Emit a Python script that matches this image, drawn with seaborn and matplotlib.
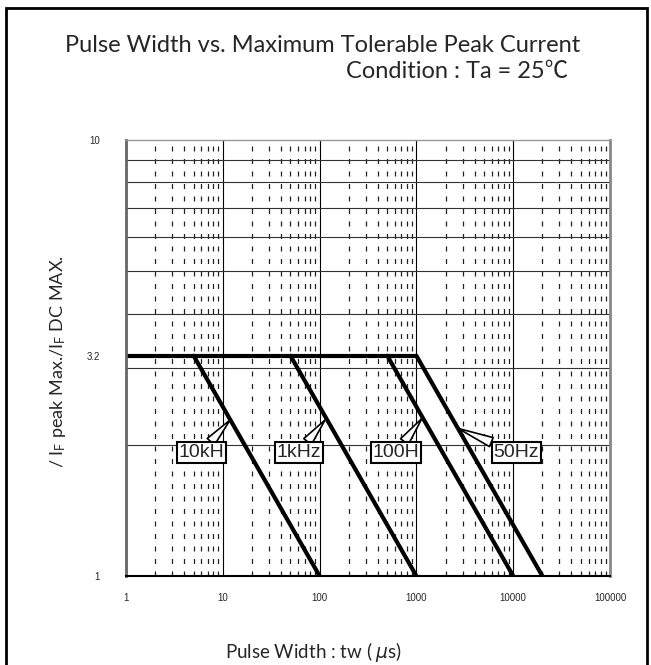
import matplotlib
matplotlib.use("Agg")
import matplotlib.pyplot as plt
import matplotlib.ticker as mticker
import matplotlib.patches as mpatches
import numpy as np
import pandas as pd
import seaborn as sns

# derating curves: (pulse width at knee, ratio at knee) -> (pulse width, ratio 1)
freqs = ["10kH", "1kHz", "100H", "50Hz"]
knee_tw = [5, 50, 500, 1000]
end_tw = [100, 1000, 10000, 20000]
knee_ratio = 3.2
flat_tw = [1, 1000]

# callout label positions (data coords) and the point they point to
label_x = [6.0, 61, 620, 10800]
label_y = [1.92, 1.92, 1.92, 1.92]
tip_x = [11.9, 114, 1143, 2700]
tip_y = [2.28, 2.28, 2.30, 2.18]

x_ticks = [1, 10, 100, 1000, 10000, 100000]
y_ticks = [1, 3.2, 10]

rows = []
for f, k, e in zip(freqs, knee_tw, end_tw):
    rows.append({"series": f, "tw": k, "ratio": knee_ratio})
    rows.append({"series": f, "tw": e, "ratio": 1})
for t in flat_tw:
    rows.append({"series": "flat", "tw": t, "ratio": knee_ratio})
df = pd.DataFrame(rows)

sns.set_style("white")
plt.rcParams["font.family"] = ["Lato", "Noto Sans CJK JP", "DejaVu Sans"]

W, H = 651, 665
fig = plt.figure(figsize=(W / 100, H / 100), dpi=100)
ax = fig.add_axes([126 / W, 1 - 576 / H, (610 - 126) / W, (576 - 140) / H])

ax.set_xscale("log")
ax.set_yscale("log")
ax.set_xlim(1, 100000)
ax.set_ylim(1, 10)

# grid
ax.xaxis.set_major_locator(mticker.FixedLocator(x_ticks))
ax.xaxis.set_minor_locator(mticker.LogLocator(base=10, subs=np.arange(2, 10)))
ax.yaxis.set_major_locator(mticker.FixedLocator(y_ticks))
ax.yaxis.set_minor_locator(mticker.LogLocator(base=10, subs=np.arange(2, 10)))
ax.xaxis.set_major_formatter(mticker.FixedFormatter([str(v) for v in x_ticks]))
ax.yaxis.set_major_formatter(mticker.FixedFormatter(["1", "3.2", "10"]))
ax.yaxis.set_minor_formatter(mticker.NullFormatter())
ax.xaxis.set_minor_formatter(mticker.NullFormatter())

ax.grid(True, which="major", axis="x", color="black", lw=0.8)
ax.grid(True, which="minor", axis="x", color="#222222", lw=0.9, linestyle=(0, (4, 6)))
ax.grid(True, which="minor", axis="y", color="#333333", lw=0.8)
ax.grid(False, which="major", axis="y")
ax.set_axisbelow(True)

ax.tick_params(which="both", length=0)
ax.tick_params(axis="y", pad=19, labelsize=7)
ax.tick_params(axis="x", pad=12, labelsize=7)
for lab in ax.get_xticklabels() + ax.get_yticklabels():
    lab.set_fontfamily("Liberation Sans")

for side, c, w in [("left", "#666666", 2), ("bottom", "black", 1.5),
                   ("right", "#888888", 2), ("top", "#999999", 1)]:
    ax.spines[side].set_visible(True)
    ax.spines[side].set_color(c)
    ax.spines[side].set_linewidth(w)

sns.lineplot(data=df, x="tw", y="ratio", units="series", estimator=None,
             sort=False, color="black", lw=3, ax=ax, legend=False)
ax.set_xlabel("")
ax.set_ylabel("")

for name, lx, ly, tx, ty in zip(freqs, label_x, label_y, tip_x, tip_y):
    ax.annotate(name, xy=(tx, ty), xytext=(lx, ly), ha="center", va="center",
                fontsize=14, family="Liberation Sans",
                bbox=dict(boxstyle="square,pad=0.08", fc="white", ec="black", lw=1.5),
                arrowprops=dict(arrowstyle="wedge,tail_width=0.5", fc="white",
                                ec="black", lw=1.2, shrinkA=0, shrinkB=0))

fig.text(323 / W, 1 - 45 / H, "Pulse Width vs. Maximum Tolerable Peak Current",
         ha="center", va="center", fontsize=17)
fig.text(568 / W, 1 - 71 / H, "Condition : Ta = 25℃", ha="right", va="center",
         fontsize=17)
fig.text(314 / W, 1 - 652 / H, r"Pulse Width : tw ( $\mu$s)", ha="center",
         va="center", fontsize=13.5)
fig.text(58 / W, 1 - 362 / H,
         r"/ $\mathregular{I_F}$ peak Max./$\mathregular{I_F}$ DC MAX.",
         ha="center", va="center", rotation=90, fontsize=13)

fig.patches.append(mpatches.Rectangle((6 / W, -0.05), (647 - 6) / W, 1.05 - 8 / H,
                                      transform=fig.transFigure, fill=False,
                                      ec="black", lw=2))

fig.savefig("out.png", dpi=100)
